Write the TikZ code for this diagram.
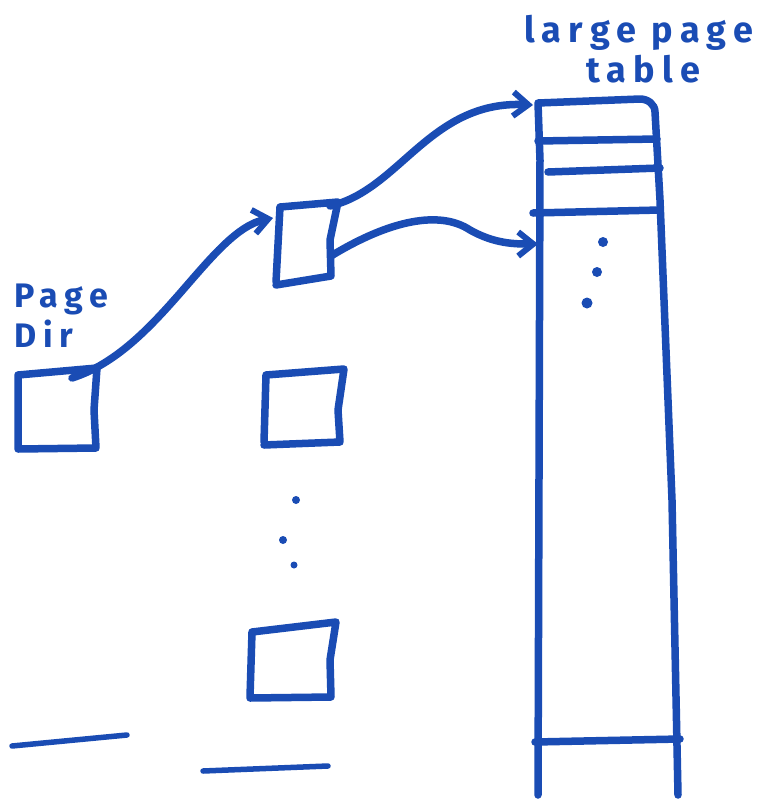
\documentclass[tikz,border=0pt]{standalone}
\usepackage{fontspec}
\setmainfont{Fira Sans}
\newfontfamily\handfont[LetterSpace=20]{Fira Sans}
\usetikzlibrary{arrows.meta}
\definecolor{ink}{RGB}{26,76,180}
\begin{document}
\begin{tikzpicture}[x=1pt,y=-1pt,
  pen/.style={draw=ink,line width=7.5pt,line cap=round,line join=round},
  thinpen/.style={draw=ink,line width=5.5pt,line cap=round,line join=round},
  hand/.style={text=ink,font=\handfont\bfseries\fontsize{36}{36}\selectfont,inner sep=0pt},
  tip/.style={-{Straight Barb[length=15pt,width=24pt,line width=6pt]}}]
\fill[white] (0,0) rectangle (778,801);
\useasboundingbox (0,0) rectangle (778,801);

% texts
\node[hand,anchor=west] (lbl1) at (524,33) {large page};
\node[hand,anchor=west] (lbl2) at (586,69) {table};
\node[hand,anchor=west,align=left,font=\handfont\bfseries\fontsize{34}{40}\selectfont] (lbl3) at (14,316) {Page\\Dir};

% page directory box
\draw[pen] (18,448) -- (18,375) -- (97,368) -- (94,410) -- (96,448) -- (18,449);
\coordinate (pdout) at (72,378);

% second-level box 1
\draw[pen] (276,282) -- (280,207) -- (338,202) -- (330,240) -- (331,276) -- (276,285);
\coordinate (b1in) at (273,218);
\coordinate (b1outA) at (330,206);
\coordinate (b1outB) at (331,256);

% second-level box 2
\draw[pen] (264,442) -- (266,375) -- (344,369) -- (338,410) -- (340,442) -- (264,445);
% second-level box 3
\draw[pen] (250,697) -- (252,632) -- (336,622) -- (330,660) -- (331,697) -- (250,698);

% vertical dots
\fill[ink] (296,500) circle (4pt);
\fill[ink] (283,540) circle (4pt);
\fill[ink] (294,565) circle (3.5pt);

% bottom strokes
\draw[thinpen] (12,746) -- (127,735);
\draw[thinpen] (203,771) -- (328,766);

% large page table
\draw[pen] (538,795) -- (540,160) -- (538,103) -- (640,99) to[out=0,in=90] (655,112) -- (660,200) -- (672,500) -- (678,795);
\draw[pen] (538,141) -- (657,139);
\draw[pen] (548,172) -- (660,168);
\draw[pen] (533,213) -- (660,210);
\draw[pen] (535,742) -- (680,739);
\fill[ink] (603,242) circle (5pt);
\fill[ink] (597,272) circle (5pt);
\fill[ink] (587,303) circle (5.5pt);

\coordinate (tA) at (533,105);
\coordinate (tB) at (538,244);

% connectors
\draw[pen,tip] (pdout) .. controls (160,350) and (210,230) .. (b1in);
\draw[pen,tip] (b1outA) .. controls (400,190) and (430,100) .. (tA);
\draw[pen,tip] (b1outB) .. controls (390,220) and (440,210) .. (470,230) .. controls (495,244) and (515,244) .. (tB);
\end{tikzpicture}
\end{document}
